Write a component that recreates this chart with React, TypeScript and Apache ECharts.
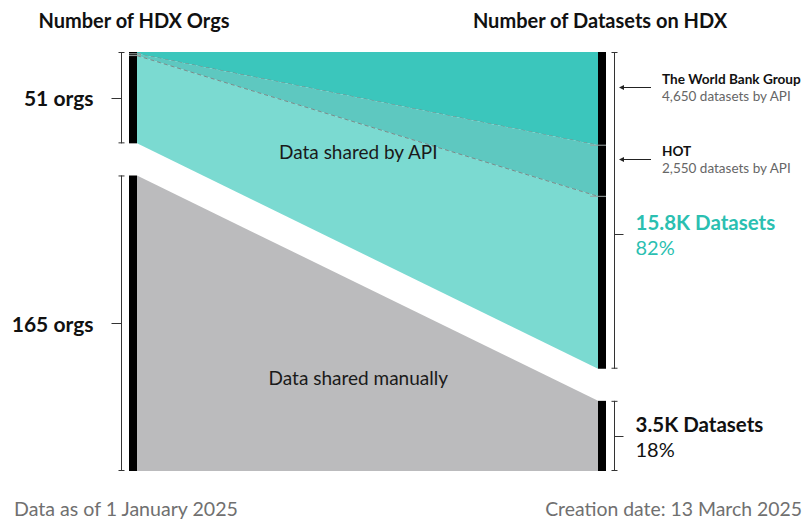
import React, { useEffect, useRef } from "react";
import * as echarts from "echarts";

// ---- data ----
const sideTitles = ["Number of HDX Orgs", "Number of Datasets on HDX"];
const groups = ["Data shared by API", "Data shared manually"];
const orgCounts = [51, 165];
const orgLabels = ["51 orgs", "165 orgs"];
const datasetCounts = [15800, 3500];
const datasetLabels = ["15.8K Datasets", "3.5K Datasets"];
const datasetShares = ["82%", "18%"];
const apiPublishers = ["The World Bank Group", "HOT"];
const apiPublisherOrgs = [1, 1];
const apiPublisherDatasets = [4650, 2550];
const apiPublisherNotes = ["4,650 datasets by API", "2,550 datasets by API"];
const footnotes = ["Data as of 1 January 2025", "Creation date: 13 March 2025"];

// ---- layout / style constants ----
const GAP = 0.083; // vertical gap between the two bands, in share units
const FONT = "Lato, 'Source Sans Pro', 'Noto Sans', sans-serif";
const C_API = "#7bdad1";
const C_HOT = "#5ec8c0";
const C_WB = "#3bc6bc";
const C_MAN = "#bbbbbd";
const C_TEAL = "#2bbfb1";

export default function App() {
  const ref = useRef<HTMLDivElement>(null);

  useEffect(() => {
    if (!ref.current) return;
    const chart = echarts.init(ref.current, null, { renderer: "svg" });

    const orgTotal = orgCounts.reduce((a, b) => a + b, 0);
    const dsTotal = datasetCounts.reduce((a, b) => a + b, 0);

    const leftSeg = [
      [0, orgCounts[0] / orgTotal],
      [orgCounts[0] / orgTotal + GAP, 1 + GAP],
    ];
    const rightSeg = [
      [0, datasetCounts[0] / dsTotal],
      [datasetCounts[0] / dsTotal + GAP, 1 + GAP],
    ];

    const subFlows: number[][] = []; // [l0,l1,r0,r1,styleIdx,dashed]
    let lAcc = 0;
    let rAcc = 0;
    const pubStyle = [2, 1];
    apiPublishers.forEach((_, i) => {
      const l1 = lAcc + apiPublisherOrgs[i] / orgTotal;
      const r1 = rAcc + apiPublisherDatasets[i] / dsTotal;
      subFlows.push([lAcc, l1, rAcc, r1, pubStyle[i], 1]);
      lAcc = l1;
      rAcc = r1;
    });
    const flows: number[][] = [
      [lAcc, leftSeg[0][1], rAcc, rightSeg[0][1], 0, 0],
      ...subFlows,
      [leftSeg[1][0], leftSeg[1][1], rightSeg[1][0], rightSeg[1][1], 3, 0],
    ];
    const flowColors = [C_API, C_HOT, C_WB, C_MAN];

    const bars = [
      [0, leftSeg[0][0], leftSeg[0][1]],
      [0, leftSeg[1][0], leftSeg[1][1]],
      [1, rightSeg[0][0], rightSeg[0][1]],
      [1, rightSeg[1][0], rightSeg[1][1]],
    ];
    const seps: number[][] = [];
    subFlows.forEach((f) => {
      seps.push([0, f[1]]);
      seps.push([1, f[3]]);
    });

    const brackets = [
      [0, leftSeg[0][0], leftSeg[0][1], 0.5, 0],
      [0, leftSeg[1][0], leftSeg[1][1], 0.5, 1],
      [1, rightSeg[0][0], rightSeg[0][1], 0.574, 0],
      [1, rightSeg[1][0], rightSeg[1][1], 0.5, 1],
    ];

    const bandLabels = [
      [leftSeg[0][0], leftSeg[0][1], rightSeg[0][0], rightSeg[0][1], 0],
      [leftSeg[1][0], leftSeg[1][1], rightSeg[1][0], rightSeg[1][1], 1],
    ];

    const pubAnn = subFlows.map((f, i) => [f[2], f[3], i]);

    const option: any = {
      animation: false,
      grid: { left: 137, right: 206, top: 52, bottom: 49 },
      xAxis: { type: "value", min: 0, max: 1, show: false },
      yAxis: { type: "value", min: 0, max: 1 + GAP, inverse: true, show: false },
      graphic: [
        {
          type: "text",
          style: {
            text: sideTitles[0], x: 134, y: 20, fill: "#111",
            fontFamily: FONT, fontSize: 20, fontWeight: "bold",
            textAlign: "center", textVerticalAlign: "middle",
          },
        },
        {
          type: "text",
          style: {
            text: sideTitles[1], x: 600, y: 20, fill: "#111",
            fontFamily: FONT, fontSize: 20, fontWeight: "bold",
            textAlign: "center", textVerticalAlign: "middle",
          },
        },
        {
          type: "text",
          style: {
            text: footnotes[0], x: 14, y: 508, fill: "#707070",
            fontFamily: FONT, fontSize: 19.6,
            textAlign: "left", textVerticalAlign: "middle",
          },
        },
        {
          type: "text",
          style: {
            text: footnotes[1], x: 802, y: 508, fill: "#707070",
            fontFamily: FONT, fontSize: 19.4,
            textAlign: "right", textVerticalAlign: "middle",
          },
        },
      ],
      series: [
        {
          type: "custom",
          name: "flows",
          clip: false,
          silent: true,
          data: flows,
          renderItem: (p: any, api: any) => {
            const l0 = api.value(0), l1 = api.value(1), r0 = api.value(2), r1 = api.value(3);
            const s = api.value(4), dashed = api.value(5);
            const a = api.coord([0, l0]);
            const b = api.coord([1, r0]);
            const c = api.coord([1, r1]);
            const d = api.coord([0, l1]);
            const children: any[] = [
              {
                type: "polygon",
                shape: { points: [a, b, c, d] },
                style: { fill: flowColors[s] },
              },
            ];
            if (dashed) {
              children.push({
                type: "line",
                shape: { x1: d[0], y1: d[1], x2: c[0], y2: c[1] },
                style: { stroke: "#7a8a88", lineWidth: 1, lineDash: [4, 3], fill: null },
              });
            }
            return { type: "group", children };
          },
        },
        {
          type: "custom",
          name: "bars",
          clip: false,
          silent: true,
          data: bars,
          renderItem: (p: any, api: any) => {
            const side = api.value(0);
            const t = api.coord([side, api.value(1)]);
            const b = api.coord([side, api.value(2)]);
            const x = side === 0 ? t[0] - 8 : t[0];
            return {
              type: "rect",
              shape: { x, y: t[1], width: 8, height: b[1] - t[1] },
              style: { fill: "#000" },
            };
          },
        },
        {
          type: "custom",
          name: "separators",
          clip: false,
          silent: true,
          data: seps,
          renderItem: (p: any, api: any) => {
            const side = api.value(0);
            const pt = api.coord([side, api.value(1)]);
            const x1 = pt[0] - 8;
            const x2 = side === 0 ? pt[0] + 4 : pt[0] + 8;
            return {
              type: "line",
              shape: { x1, y1: pt[1], x2, y2: pt[1] },
              style: { stroke: "#9aa3a2", lineWidth: 1 },
            };
          },
        },
        {
          type: "custom",
          name: "brackets",
          clip: false,
          silent: true,
          data: brackets,
          renderItem: (p: any, api: any) => {
            const side = api.value(0);
            const y0v = api.value(1), y1v = api.value(2), f = api.value(3), g = api.value(4);
            const t = api.coord([side, y0v]);
            const b = api.coord([side, y1v]);
            const m = api.coord([side, y0v + (y1v - y0v) * f]);
            const bx = Math.round(side === 0 ? t[0] - 16 : t[0] + 16) + 0.5;
            const stroke = "#333";
            const children: any[] = [
              { type: "line", shape: { x1: bx, y1: t[1], x2: bx, y2: b[1] }, style: { stroke, lineWidth: 1 } },
              { type: "line", shape: { x1: bx - 3, y1: t[1] + 0.5, x2: bx + 3, y2: t[1] + 0.5 }, style: { stroke, lineWidth: 1 } },
              { type: "line", shape: { x1: bx - 3, y1: b[1] - 0.5, x2: bx + 3, y2: b[1] - 0.5 }, style: { stroke, lineWidth: 1 } },
            ];
            const my = Math.round(m[1]) + 0.5;
            if (side === 0) {
              children.push({ type: "line", shape: { x1: bx - 10, y1: my, x2: bx, y2: my }, style: { stroke, lineWidth: 1 } });
              children.push({
                type: "text",
                style: {
                  text: orgLabels[g], x: bx - 28, y: m[1], fill: "#111",
                  fontFamily: FONT, fontSize: 21, fontWeight: "bold",
                  textAlign: "right", textVerticalAlign: "middle",
                },
              });
            } else {
              children.push({ type: "line", shape: { x1: bx, y1: my, x2: bx + 9, y2: my }, style: { stroke, lineWidth: 1 } });
              const col = g === 0 ? C_TEAL : "#111";
              children.push({
                type: "text",
                style: {
                  text: datasetLabels[g], x: bx + 21, y: m[1] - 12, fill: col,
                  fontFamily: FONT, fontSize: 20.5, fontWeight: "bold",
                  textAlign: "left", textVerticalAlign: "middle",
                },
              });
              children.push({
                type: "text",
                style: {
                  text: datasetShares[g], x: bx + 21, y: m[1] + 13, fill: col,
                  fontFamily: FONT, fontSize: 20,
                  textAlign: "left", textVerticalAlign: "middle",
                },
              });
            }
            return { type: "group", children };
          },
        },
        {
          type: "custom",
          name: "bandLabels",
          clip: false,
          silent: true,
          data: bandLabels,
          renderItem: (p: any, api: any) => {
            const fx = 0.48;
            const l0 = api.value(0), l1 = api.value(1), r0 = api.value(2), r1 = api.value(3);
            const top = l0 + (r0 - l0) * fx;
            const bot = l1 + (r1 - l1) * fx;
            const c = api.coord([fx, (top + bot) / 2]);
            return {
              type: "text",
              style: {
                text: groups[api.value(4)], x: c[0], y: c[1], fill: "#1a1a1a",
                fontFamily: FONT, fontSize: 19,
                textAlign: "center", textVerticalAlign: "middle",
              },
            };
          },
        },
        {
          type: "custom",
          name: "publishers",
          clip: false,
          silent: true,
          data: pubAnn,
          renderItem: (p: any, api: any) => {
            const y0v = api.value(0), y1v = api.value(1), i = api.value(2);
            const m = api.coord([1, (y0v + y1v) / 2]);
            const ay = Math.round(m[1] - 12) + 0.5;
            const xh = m[0] + 21;
            const xe = m[0] + 53;
            return {
              type: "group",
              children: [
                { type: "line", shape: { x1: xh + 3, y1: ay, x2: xe, y2: ay }, style: { stroke: "#222", lineWidth: 1 } },
                { type: "polygon", shape: { points: [[xh, ay], [xh + 5, ay - 2.5], [xh + 5, ay + 2.5]] }, style: { fill: "#222" } },
                {
                  type: "text",
                  style: {
                    text: apiPublishers[i], x: m[0] + 64, y: ay - 9, fill: "#111",
                    fontFamily: FONT, fontSize: 13.6, fontWeight: "bold",
                    textAlign: "left", textVerticalAlign: "middle",
                  },
                },
                {
                  type: "text",
                  style: {
                    text: apiPublisherNotes[i], x: m[0] + 64, y: ay + 8, fill: "#666",
                    fontFamily: FONT, fontSize: 13.5,
                    textAlign: "left", textVerticalAlign: "middle",
                  },
                },
              ],
            };
          },
        },
      ],
    };

    chart.setOption(option);
    return () => chart.dispose();
  }, []);

  return (
    <div
      ref={ref}
      style={{ position: "absolute", left: 0, top: 0, width: 804, height: 520, background: "#fff" }}
    />
  );
}
